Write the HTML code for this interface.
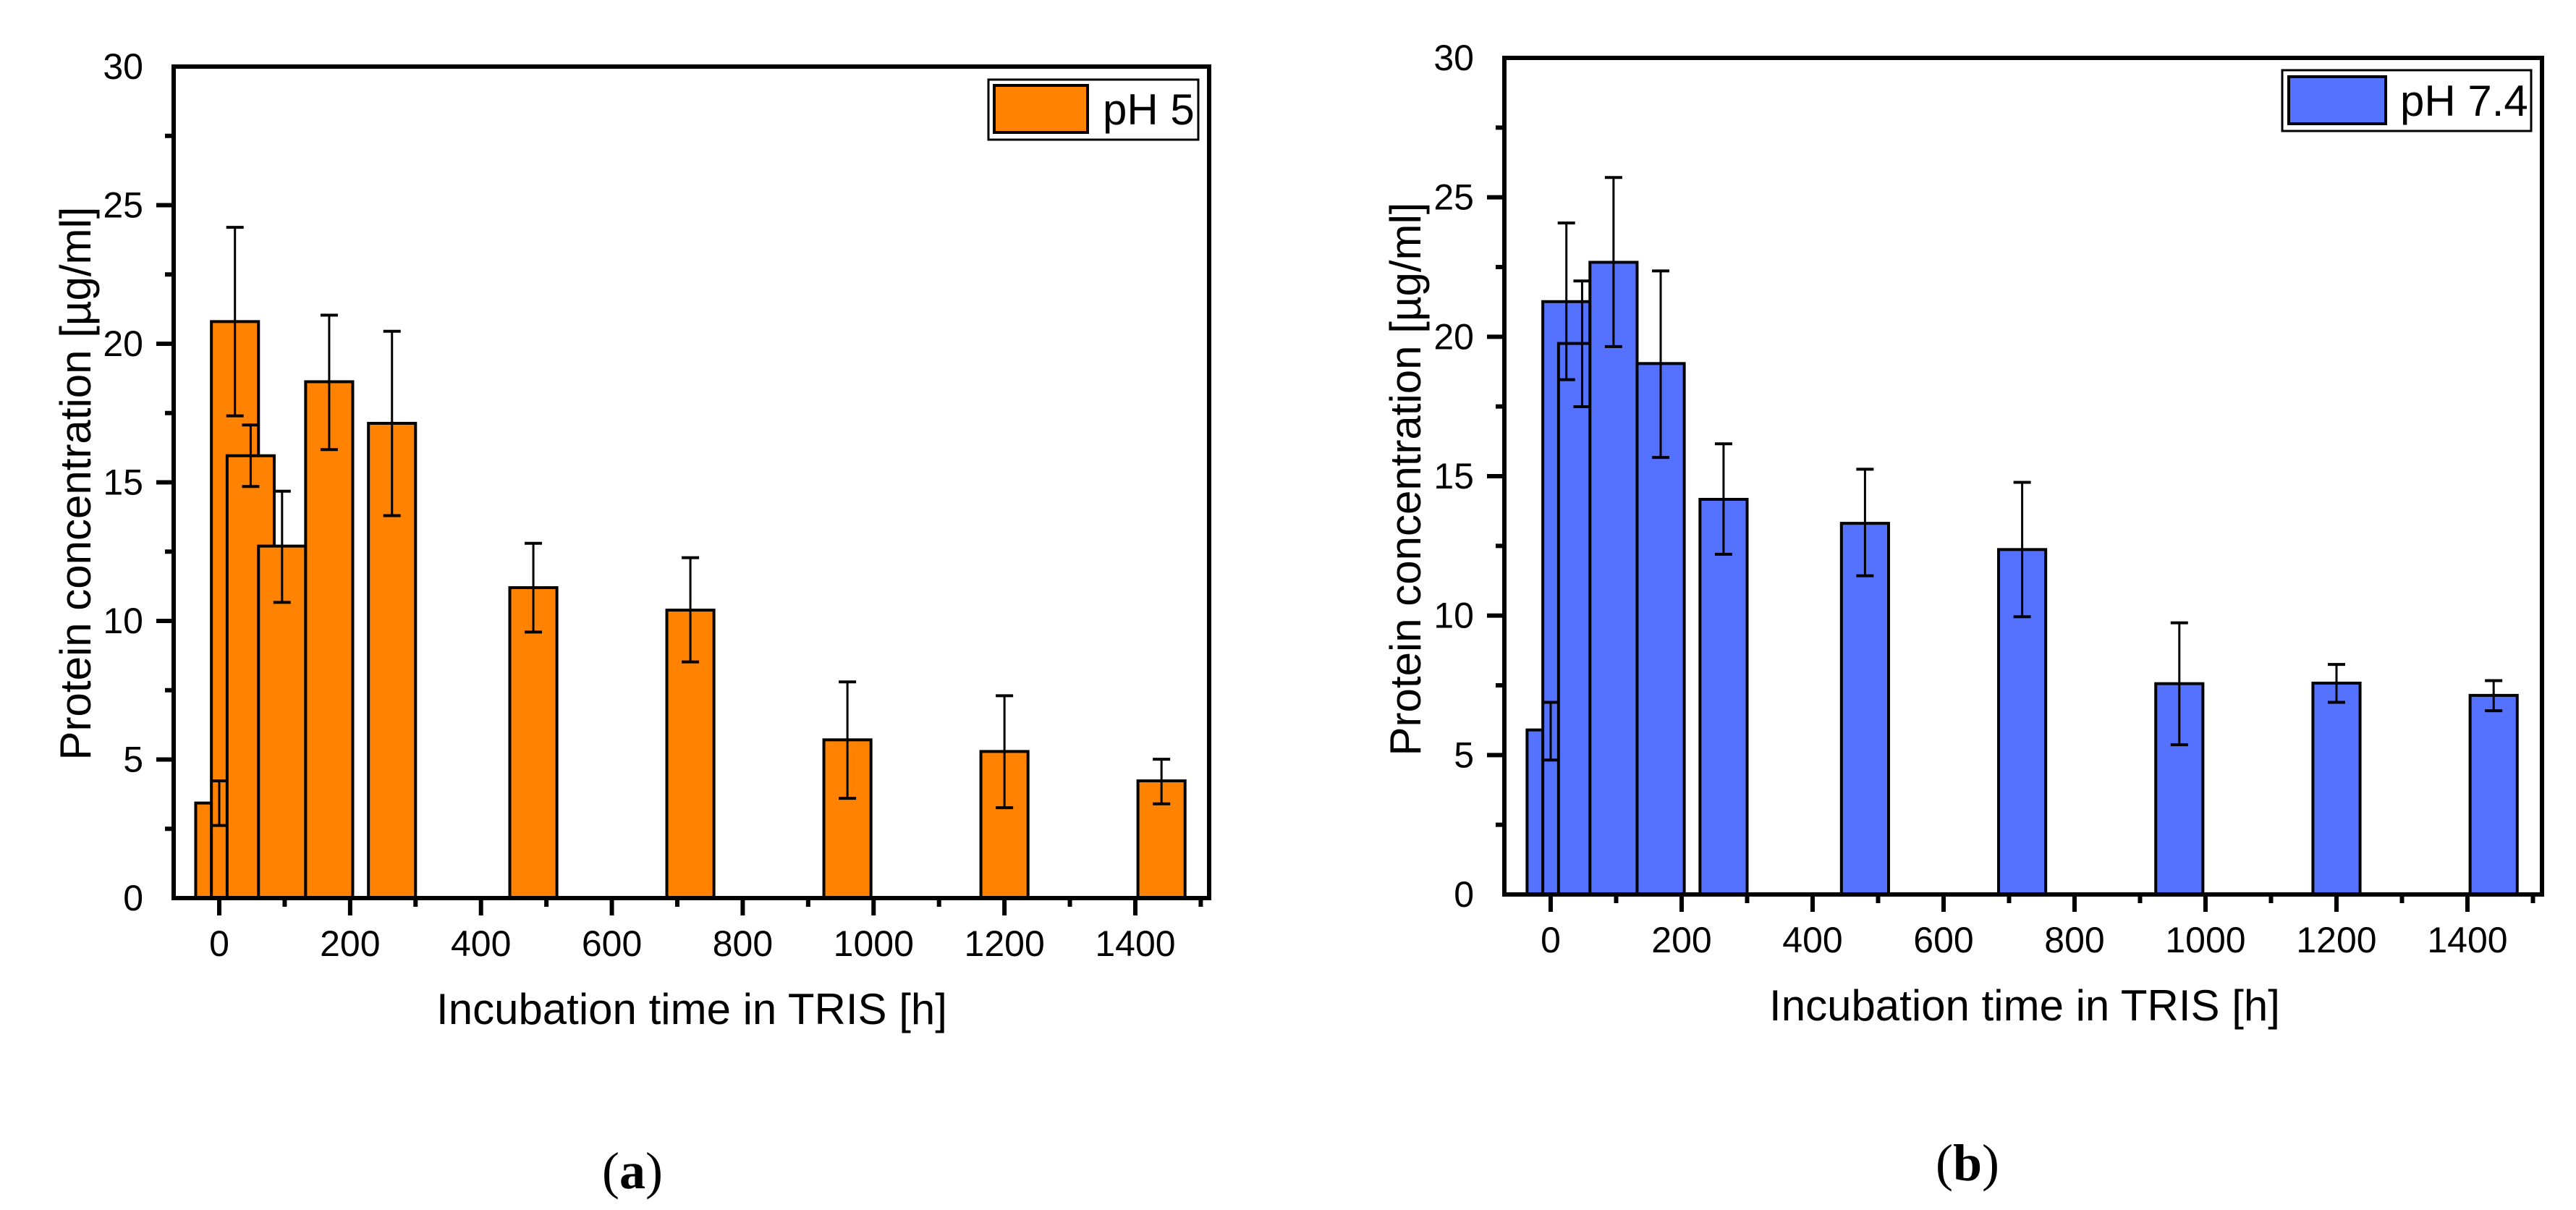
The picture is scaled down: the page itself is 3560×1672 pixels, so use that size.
<!DOCTYPE html>
<html><head><meta charset="utf-8"><style>
html,body{margin:0;padding:0;background:#fff;}
svg{display:block;font-family:"Liberation Sans",sans-serif;}
</style></head><body>
<svg id="fig" width="3560" height="1672" viewBox="0 0 3560 1672"></svg>
<script>
const times = [0,24,48,96,168,264,480,720,960,1200,1440];
const valsA = [3.43,20.8,15.96,12.7,18.63,17.13,11.2,10.39,5.71,5.29,4.23];
const errHiA = [4.23,24.2,17.07,14.68,21.03,20.45,12.8,12.28,7.8,7.3,5.01];
const errLoA = [2.62,17.4,14.85,10.67,16.18,13.8,9.6,8.52,3.6,3.26,3.4];
const valsB = [5.9,21.26,19.76,22.67,19.04,14.17,13.31,12.37,7.56,7.58,7.14];
const errHiB = [6.89,24.08,22.0,25.71,22.36,16.16,15.25,14.78,9.74,8.25,7.67];
const errLoB = [4.82,18.46,17.49,19.65,15.67,12.2,11.43,9.96,5.37,6.89,6.59];
const xTicks = [0,200,400,600,800,1000,1200,1400];
const yTicks = [0,5,10,15,20,25,30];
const barWidthH = 72;

const NS="http://www.w3.org/2000/svg";
const svg=document.getElementById('fig');
function mk(tag,attrs,parent){const e=document.createElementNS(NS,tag);for(const k in attrs)e.setAttribute(k,attrs[k]);(parent||svg).appendChild(e);return e;}

function panel(cfg){
  const g=mk('g',{});
  
  
  const X=v=>cfg.x0+(v)*(cfg.x1400-cfg.x0)/1400;
  const Y=v=>cfg.bottom-(v)*(cfg.bottom-cfg.top)/30;
  for(let i=0;i<times.length;i++){
    const l=X(times[i]-barWidthH/2), r=X(times[i]+barWidthH/2);
    const b=mk('rect',{x:l,y:Y(cfg.vals[i]),width:r-l,height:Y(0)-Y(cfg.vals[i]),fill:cfg.color,stroke:'#000','stroke-width':4},g);
    
    
  }
  for(let i=0;i<times.length;i++){
    const cx=X(times[i]);
    const e=mk('g',{stroke:'#000','stroke-width':3},g);
    
    
    mk('line',{x1:cx,x2:cx,y1:Y(cfg.hi[i]),y2:Y(cfg.lo[i])},e);
    mk('line',{x1:cx-12,x2:cx+12,y1:Y(cfg.hi[i]),y2:Y(cfg.hi[i]),'stroke-width':4},e);
    mk('line',{x1:cx-12,x2:cx+12,y1:Y(cfg.lo[i]),y2:Y(cfg.lo[i]),'stroke-width':4},e);
  }
  const fr=mk('rect',{x:cfg.left,y:cfg.top,width:cfg.right-cfg.left,height:cfg.bottom-cfg.top,fill:'none',stroke:'#000','stroke-width':6},g);
  
  
  for(let v=-100;v<=1500;v+=100){
    const px=X(v); if(px<cfg.left+2||px>cfg.right-2)continue;
    const major=v%200===0;
    mk('line',{x1:px,x2:px,y1:cfg.bottom,y2:cfg.bottom+(major?24:12),stroke:'#000','stroke-width':6},g);
  }
  xTicks.forEach(v=>{
    const t=mk('text',{x:X(v),y:cfg.bottom+80,'text-anchor':'middle','font-size':50},g);
    t.textContent=v;
    
    
  });
  for(let v=2.5;v<30;v+=2.5){
    const major=Math.abs(v%5)<0.01;
    mk('line',{x1:cfg.left,x2:cfg.left-(major?24:12),y1:Y(v),y2:Y(v),stroke:'#000','stroke-width':6},g);
  }
  yTicks.forEach(v=>{
    const t=mk('text',{x:cfg.left-42,y:Y(v)+17,'text-anchor':'end','font-size':50},g);
    t.textContent=v;
    
    
  });
  const xt=mk('text',{x:cfg.xtx,y:cfg.xty,'text-anchor':'middle','font-size':60},g);
  xt.textContent='Incubation time in TRIS [h]';
  
  
  const yt=mk('text',{x:0,y:0,'text-anchor':'middle','font-size':60,transform:`translate(${cfg.ytx},${cfg.yty}) rotate(-90)`},g);
  yt.textContent='Protein concentration [µg/ml]';
  
  
  const lg=mk('g',{},g);
  
  
  const L=cfg.leg;
  mk('rect',{x:L.bx,y:L.by,width:L.bw,height:L.bh,fill:'#fff',stroke:'#000','stroke-width':3},lg);
  mk('rect',{x:L.sx,y:L.sy,width:L.sw,height:L.sh,fill:cfg.color,stroke:'#000','stroke-width':4},lg);
  const lt=mk('text',{x:L.tx,y:L.ty,'font-size':60},lg);
  lt.textContent=cfg.label;
  
  
  const cap=mk('text',{x:cfg.capx,y:cfg.capy,'text-anchor':'middle','font-size':72,'font-family':'"Liberation Serif",serif'},g);
  cap.innerHTML='(<tspan font-weight="bold">'+cfg.cap+'</tspan>)';
  
  
}

panel({name:'chart-ph5',color:'#FF8200',vals:valsA,hi:errHiA,lo:errLoA,label:'pH 5',cap:'a',
  left:240,right:1671,top:92,bottom:1241,x0:303,x1400:1569,
  xtx:956,xty:1415,ytx:125,yty:668,capx:874,capy:1642,
  leg:{bx:1366,by:110,bw:290,bh:83,sx:1374,sy:118,sw:129,sh:65,tx:1524,ty:172}});
panel({name:'chart-ph74',color:'#5572FF',vals:valsB,hi:errHiB,lo:errLoB,label:'pH 7.4',cap:'b',
  left:2079,right:3513,top:80,bottom:1236,x0:2143,x1400:3410,
  xtx:2798,xty:1410,ytx:1963,yty:662,capx:2719,capy:1631,
  leg:{bx:3154,by:97,bw:344,bh:84,sx:3163,sy:106,sw:134,sh:65,tx:3317,ty:160}});
</script>
</body></html>
